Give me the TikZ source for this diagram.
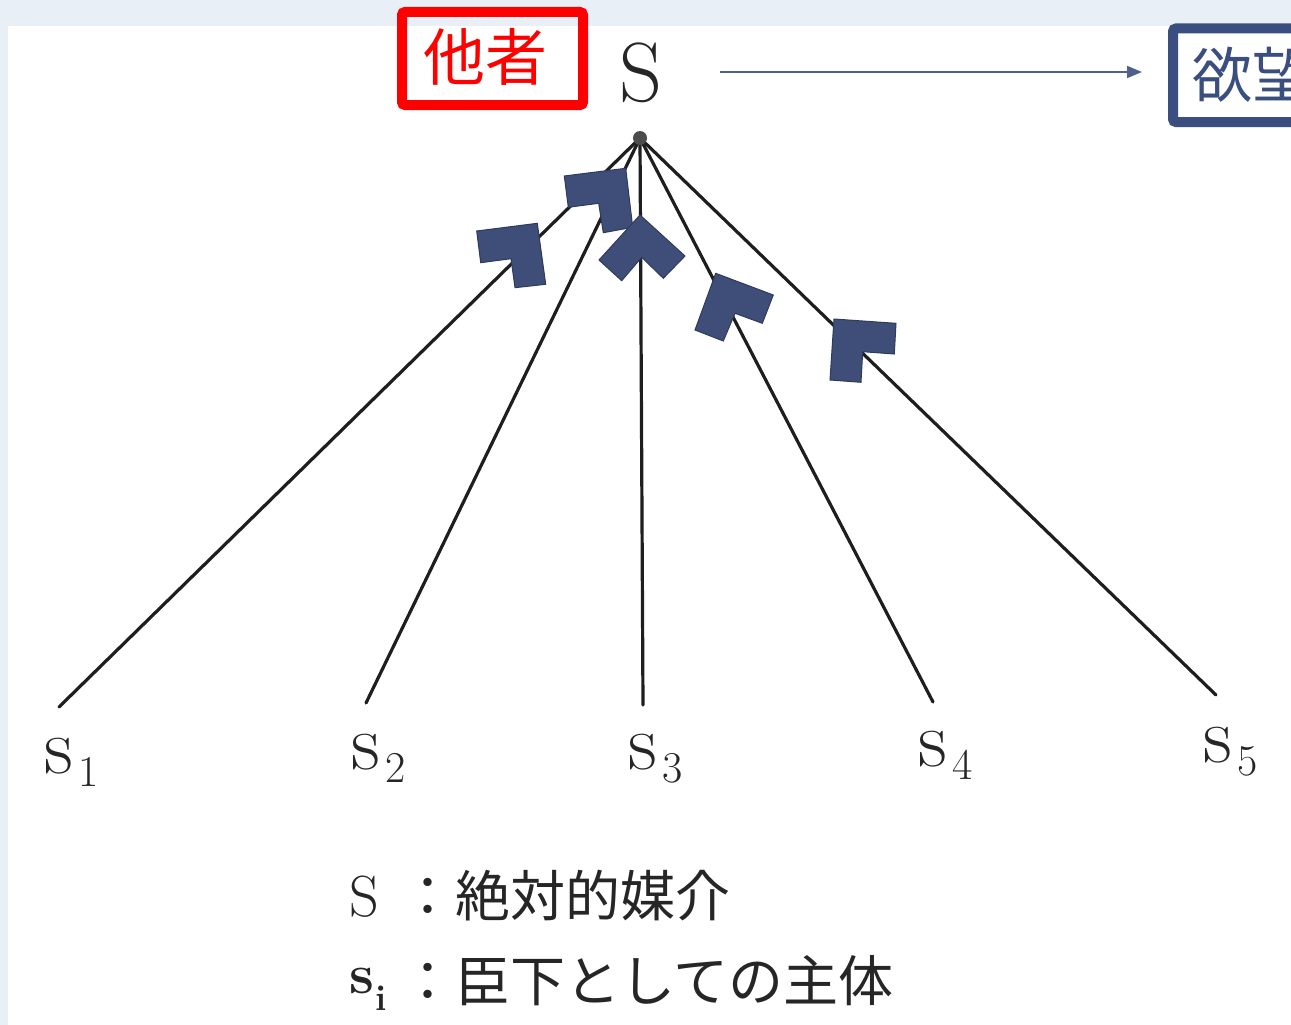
\documentclass[tikz,border=0pt]{standalone}
\usepackage{fontspec}
\newfontfamily\cjk{Noto Sans CJK JP}
\usetikzlibrary{arrows.meta}
\definecolor{bgblue}{HTML}{E8EFF7}
\definecolor{navy}{HTML}{3A4F80}
\definecolor{chev}{HTML}{3F4E78}
\definecolor{chevedge}{HTML}{2E3B5E}
\definecolor{inkline}{HTML}{1E1E1E}
\tikzset{
  spoke/.style={draw=inkline, line width=3.2pt, line cap=round},
  chevron/.style={fill=chev, draw=chevedge, line width=1pt, line join=miter},
  sublabel/.style={anchor=base west, inner sep=0pt, text=black!85},
  cjktext/.style={inner sep=0pt, font=\cjk},
}
\newcommand{\slab}[1]{{\fontsize{80}{80}\selectfont s}\kern5pt\raisebox{-13pt}{\fontsize{44}{44}\selectfont #1}}
\begin{document}
\begin{tikzpicture}[x=1pt,y=-1pt]
\useasboundingbox (0,0) rectangle (1291,1025);
\clip (0,0) rectangle (1291,1025);
% background
\fill[bgblue] (0,0) rectangle (1291,1025);
\fill[white] (8,26) rectangle (1291,1025);

% top S
\node[inner sep=0pt, font=\fontsize{84}{84}\selectfont, text=black!85] (S) at (641,73) {S};
\coordinate (apex) at (640,138);

% red box
\node[draw=red, line width=10pt, rounded corners=3pt, minimum width=181pt, minimum height=93pt, inner sep=0pt] (otherbox) at (492.5,58.5) {};
\node[cjktext, text=red, font=\cjk\fontsize{62}{62}\selectfont] (other) at (485,57) {他者};

% blue box
\node[draw=navy, line width=10pt, rounded corners=3pt, minimum width=160pt, minimum height=93.5pt, inner sep=0pt, anchor=west] (desirebox) at (1168,75.25) {};
\node[cjktext, text=navy, anchor=west, font=\cjk\fontsize{60}{60}\selectfont] (desire) at (1192,75) {欲望};

% arrow
\coordinate (arrstart) at (720,72);
\draw[navy!90, line width=1.8pt, -{Triangle[length=15pt,width=12pt]}, shorten >=26pt] (arrstart) -- (arrstart -| desirebox.west);

% endpoints and labels
\coordinate (e1) at (59,707);
\coordinate (e2) at (366,703);
\coordinate (e3) at (643,705);
\coordinate (e4) at (933,702);
\coordinate (e5) at (1216,695);
\node[sublabel] (s1) at (44.5,773) {\slab{1}};
\node[sublabel] (s2) at (351.5,769) {\slab{2}};
\node[sublabel] (s3) at (628.5,769) {\slab{3}};
\node[sublabel] (s4) at (918.5,766) {\slab{4}};
\node[sublabel] (s5) at (1203.5,762) {\slab{5}};

\foreach \i in {1,...,5} { \draw[spoke] (apex) -- (e\i); }
\fill[black!70] (apex) circle (7);

% chevrons
\draw[chevron] (476.7,231) -- (537.3,223.3) -- (545.7,284.3) -- (515,287.7) -- (511,258.7) -- (480.7,262.7) -- cycle;
\draw[chevron] (564.3,176) -- (625.7,168.3) -- (632.7,227.3) -- (603.3,232.7) -- (598.7,203.3) -- (568.3,207.3) -- cycle;
\draw[chevron] (640,215) -- (685,256) -- (663.3,278.3) -- (641.7,257.3) -- (621.7,280.7) -- (599,260) -- cycle;
\draw[chevron] (715.7,273.3) -- (773.3,295) -- (762.3,323.3) -- (735,313.3) -- (723.3,341) -- (695,330) -- cycle;
\draw[chevron] (834,319) -- (896,323.3) -- (894.3,354) -- (862.7,351.7) -- (861,382.3) -- (830,380) -- cycle;

% legend
\node[anchor=base west, inner sep=0pt, font=\fontsize{58}{58}\selectfont, text=black!85] (legS) at (349,916) {S};
\node[cjktext, anchor=base west, text=black!85, font=\cjk\fontsize{55}{55}\selectfont] (legS text) at (400,916) {：絶対的媒介};
\node[anchor=base west, inner sep=0pt, text=black!85] (legs) at (349,993) {{\bfseries\fontsize{56}{56}\selectfont s}\kern1pt\raisebox{-17pt}{\bfseries\fontsize{36}{36}\selectfont i}};
\node[cjktext, anchor=base west, text=black!85, font=\cjk\fontsize{55}{55}\selectfont] (legs text) at (400,1001) {：臣下としての主体};
\end{tikzpicture}
\end{document}
